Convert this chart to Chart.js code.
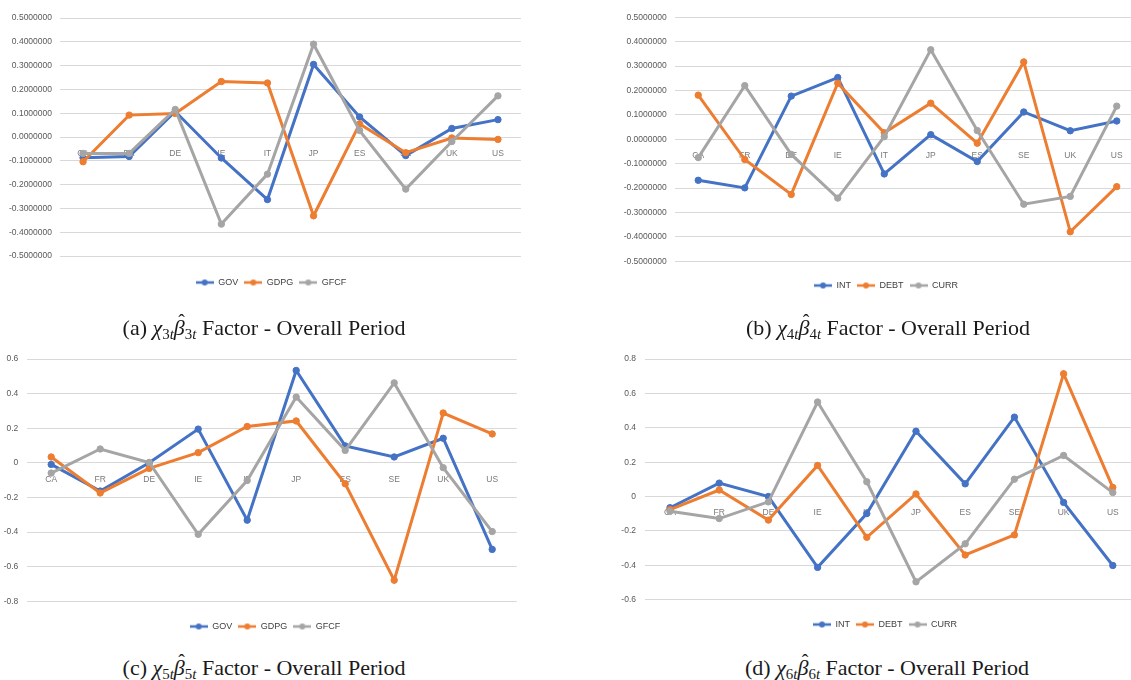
<!DOCTYPE html>
<html>
<head>
<meta charset="utf-8">
<script src="https://cdn.jsdelivr.net/npm/chart.js@4.4.0/dist/chart.umd.min.js"></script>
<style>
  html, body { margin: 0; padding: 0; background: #fff; overflow: hidden; }
  body { width: 1131px; height: 680px; position: relative; }
  canvas { position: absolute; }
  .cap {
    position: absolute; width: 500px; text-align: center;
    font-family: 'Liberation Serif', 'Times New Roman', serif; font-size: 22px;
    line-height: 24px; color: #1a1a1a; white-space: nowrap;
  }
  .cap sub { font-size: 0.68em; vertical-align: -0.3em; line-height: 0; }
  .hb { position: relative; display: inline-block; font-style: italic; }
  .hb::after { content: '\02C6'; position: absolute; left: 0.22em; top: -0.42em; font-style: normal; font-size: 0.9em; }
</style>
</head>
<body>
<canvas id="chartA" width="540" height="297" style="left:0;top:0"></canvas>
<canvas id="chartB" width="580" height="300" style="left:575px;top:0"></canvas>
<canvas id="chartC" width="540" height="301" style="left:0;top:340px"></canvas>
<canvas id="chartD" width="580" height="299" style="left:575px;top:340px"></canvas>

<div class="cap" style="left:14px;top:316px">(a) <i>χ</i><sub>3<i>t</i></sub><span class="hb">β</span><sub>3<i>t</i></sub> Factor - Overall Period</div>
<div class="cap" style="left:638px;top:316px">(b) <i>χ</i><sub>4<i>t</i></sub><span class="hb">β</span><sub>4<i>t</i></sub> Factor - Overall Period</div>
<div class="cap" style="left:14px;top:656px">(c) <i>χ</i><sub>5<i>t</i></sub><span class="hb">β</span><sub>5<i>t</i></sub> Factor - Overall Period</div>
<div class="cap" style="left:637px;top:656px">(d) <i>χ</i><sub>6<i>t</i></sub><span class="hb">β</span><sub>6<i>t</i></sub> Factor - Overall Period</div>

<script>
// countries on the x axis (same for all four panels)
const countries = ['CA', 'FR', 'DE', 'IE', 'IT', 'JP', 'ES', 'SE', 'UK', 'US'];

// (a) chi3t beta3t
const govA  = [-0.087, -0.082, 0.107, -0.088, -0.263, 0.305, 0.084, -0.078, 0.036, 0.073];
const gdpgA = [-0.104, 0.092, 0.099, 0.233, 0.227, -0.331, 0.055, -0.066, -0.004, -0.010];
const gfcfA = [-0.069, -0.069, 0.116, -0.366, -0.156, 0.390, 0.027, -0.219, -0.019, 0.173];

// (b) chi4t beta4t
const intB  = [-0.168, -0.199, 0.177, 0.253, -0.142, 0.019, -0.091, 0.112, 0.035, 0.075];
const debtB = [0.181, -0.083, -0.226, 0.230, 0.027, 0.148, -0.016, 0.317, -0.379, -0.194];
const currB = [-0.075, 0.220, -0.062, -0.241, 0.011, 0.367, 0.036, -0.266, -0.234, 0.136];

// (c) chi5t beta5t
const govC  = [-0.009, -0.163, 0.000, 0.195, -0.331, 0.534, 0.098, 0.034, 0.142, -0.500];
const gdpgC = [0.034, -0.174, -0.032, 0.059, 0.210, 0.242, -0.121, -0.678, 0.288, 0.167];
const gfcfC = [-0.059, 0.080, 0.002, -0.413, -0.102, 0.380, 0.072, 0.462, -0.028, -0.397];

// (d) chi6t beta6t
const intD  = [-0.065, 0.078, 0.000, -0.412, -0.099, 0.380, 0.074, 0.462, -0.034, -0.401];
const debtD = [-0.076, 0.038, -0.137, 0.181, -0.237, 0.015, -0.340, -0.223, 0.714, 0.053];
const currD = [-0.086, -0.128, -0.031, 0.550, 0.086, -0.496, -0.275, 0.101, 0.239, 0.023];

const BLUE = '#4472C4', ORANGE = '#ED7D31', GREY = '#A5A5A5';

Chart.defaults.font.family = "'Liberation Sans', Arial, sans-serif";

// little line-with-dot marker like the Excel legend
function legendIcon(color) {
    const c = document.createElement('canvas');
    c.width = 18; c.height = 8;
    const g = c.getContext('2d');
    g.strokeStyle = color; g.lineWidth = 2.5;
    g.beginPath(); g.moveTo(0, 4); g.lineTo(18, 4); g.stroke();
    g.fillStyle = color;
    g.beginPath(); g.arc(9, 4, 3, 0, Math.PI * 2); g.fill();
    return c;
}

function fmt7(v) {
    if (Math.abs(v) < 1e-9) v = 0;
    return v.toFixed(7);
}
function fmt1(v) {
    if (Math.abs(v) < 1e-9) return '0';
    return String(Math.round(v * 10) / 10);
}

// moves the legend sideways so it sits where the Excel one is
const legendShift = {
    id: 'legendShift',
    afterLayout(chart, args, o) {
        const L = chart.legend;
        if (!L || o.x == null) return;
        const dx = o.x - (L.left + L.right) / 2;
        L.left += dx;
        L.right += dx;
    }
};

function makeChart(id, names, series, opt) {
    const colors = [BLUE, ORANGE, GREY];
    const ctx = document.getElementById(id).getContext('2d');
    new Chart(ctx, {
        type: 'line',
        plugins: [legendShift],
        data: {
            labels: countries,
            datasets: series.map((s, i) => ({
                label: names[i],
                data: s,
                borderColor: colors[i],
                backgroundColor: colors[i],
                pointBackgroundColor: colors[i],
                pointBorderColor: colors[i],
                borderWidth: 3,
                pointRadius: 3.2,
                pointBorderWidth: 1,
                tension: 0,
                order: 2 - i   // later series drawn on top, like Excel
            }))
        },
        options: {
            responsive: false,
            animation: false,
            layout: { padding: { left: 0, right: opt.padR, top: opt.padT, bottom: 0 } },
            plugins: {
                tooltip: { enabled: false },
                legendShift: { x: opt.legendX },
                legend: {
                    position: 'bottom',
                    title: { display: true, text: '', font: { size: 1, lineHeight: 1 }, padding: { top: opt.titleH - 1, bottom: 0 } },
                    labels: {
                        usePointStyle: true,
                        pointStyleWidth: 18,
                        padding: 6,
                        color: '#404040',
                        font: { size: 9 },
                        generateLabels: chart => chart.data.datasets.map((ds, i) => ({
                            text: ds.label,
                            fillStyle: ds.borderColor,
                            strokeStyle: ds.borderColor,
                            lineWidth: 0,
                            pointStyle: legendIcon(ds.borderColor),
                            fontColor: '#404040',
                            hidden: !chart.isDatasetVisible(i),
                            datasetIndex: i
                        }))
                    }
                }
            },
            scales: {
                x: {
                    type: 'category',
                    offset: true,
                    position: { y: 0 },
                    grid: { display: false },
                    border: { display: false },
                    ticks: { padding: 3.5, color: '#7a7a7a', font: { size: 8.5 }, maxRotation: 0, autoSkip: false }
                },
                y: {
                    min: opt.min,
                    max: opt.max,
                    afterFit: s => { s.width = opt.yWidth; },
                    grid: { color: '#d9d9d9', lineWidth: 1, drawTicks: false },
                    border: { display: false },
                    ticks: { stepSize: opt.step, padding: opt.tickPad, color: '#595959', font: { size: 8.5 }, callback: opt.fmt }
                }
            }
        }
    });
}

document.addEventListener('DOMContentLoaded', () => {
    makeChart('chartA', ['GOV', 'GDPG', 'GFCF'], [govA, gdpgA, gfcfA], {
        min: -0.5, max: 0.5, step: 0.1, fmt: fmt7,
        padR: 19, padT: 18, yWidth: 60, tickPad: 8, titleH: 16, legendX: 271
    });
    makeChart('chartB', ['INT', 'DEBT', 'CURR'], [intB, debtB, currB], {
        min: -0.5, max: 0.5, step: 0.1, fmt: fmt7,
        padR: 15, padT: 17.3, yWidth: 100, tickPad: 8.3, titleH: 13.7, legendX: 311
    });
    makeChart('chartC', ['GOV', 'GDPG', 'GFCF'], [govC, gdpgC, gfcfC], {
        min: -0.8, max: 0.6, step: 0.2, fmt: fmt1,
        padR: 23.3, padT: 19, yWidth: 26.7, tickPad: 8.4, titleH: 14.7, legendX: 265
    });
    makeChart('chartD', ['INT', 'DEBT', 'CURR'], [intD, debtD, currD], {
        min: -0.6, max: 0.8, step: 0.2, fmt: fmt1,
        padR: 17.6, padT: 19, yWidth: 70.4, tickPad: 9.4, titleH: 14.3, legendX: 310
    });
});
</script>
</body>
</html>
